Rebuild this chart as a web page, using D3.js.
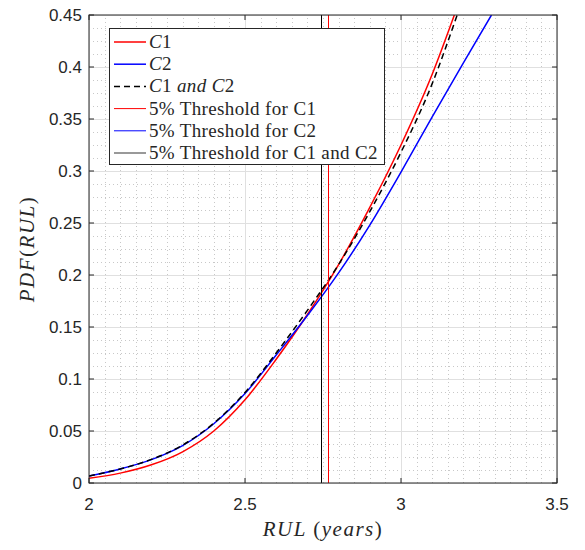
<!DOCTYPE html>
<html>
<head>
<meta charset="utf-8">
<script src="https://cdn.jsdelivr.net/npm/d3@7"></script>
<style>
  body { margin: 0; background: #fff; }
  svg { display: block; }
  .tick-label { font-family: "Liberation Sans", Arial, sans-serif; font-size: 17px; fill: #262626; }
  .tex { font-family: "Liberation Serif", "DejaVu Serif", serif; fill: #262626; }
</style>
</head>
<body>
<div id="chart"></div>
<script>
// curve samples
var c1X = [2.0, 2.1, 2.2, 2.3, 2.4, 2.5, 2.6, 2.7, 2.8, 2.9, 3.0, 3.1, 3.171];
var c1Y = [0.0045, 0.0095, 0.0175, 0.030, 0.050, 0.080, 0.119, 0.162, 0.210, 0.265, 0.325, 0.393, 0.450];

var c2X = [2.0, 2.1, 2.2, 2.3, 2.4, 2.5, 2.6, 2.7, 2.8, 2.9, 3.0, 3.1, 3.2, 3.29];
var c2Y = [0.0067, 0.0135, 0.0225, 0.036, 0.057, 0.086, 0.123, 0.161, 0.202, 0.248, 0.299, 0.352, 0.404, 0.450];

var c12X = [2.0, 2.1, 2.2, 2.3, 2.4, 2.5, 2.6, 2.7, 2.8, 2.9, 3.0, 3.1, 3.18];
var c12Y = [0.0067, 0.0135, 0.0227, 0.0365, 0.0575, 0.087, 0.125, 0.166, 0.210, 0.261, 0.318, 0.384, 0.450];

// 5% thresholds: C1, C2, C1 and C2
var thresholds = [2.765, 2.742, 2.745];

var xTicks = [2, 2.5, 3, 3.5];
var yTicks = [0, 0.05, 0.1, 0.15, 0.2, 0.25, 0.3, 0.35, 0.4, 0.45];
var yTickLabels = ["0", "0.05", "0.1", "0.15", "0.2", "0.25", "0.3", "0.35", "0.4", "0.45"];

var width = 585, height = 550;
var margin = {top: 15, right: 28, bottom: 67, left: 89};

var svg = d3.select("#chart").append("svg")
    .attr("width", width)
    .attr("height", height);

var x = d3.scaleLinear().domain([2, 3.5]).range([margin.left, width - margin.right]);
var y = d3.scaleLinear().domain([0, 0.45]).range([height - margin.bottom, margin.top]);

function px(v) { return Math.round(v) + 0.5; }

// minor grid (dotted)
var xMinor = d3.range(2, 3.5001, 0.05).map(function (v) { return +v.toFixed(3); });
var yMinor = d3.range(0, 0.45001, 0.0125).map(function (v) { return +v.toFixed(4); });

svg.append("g").selectAll("line").data(xMinor).enter().append("line")
    .attr("x1", function (d) { return px(x(d)); })
    .attr("x2", function (d) { return px(x(d)); })
    .attr("y1", y(0)).attr("y2", y(0.45))
    .attr("stroke", "#c8c8c8").attr("stroke-width", 1)
    .attr("stroke-dasharray", "1,3");

svg.append("g").selectAll("line").data(yMinor).enter().append("line")
    .attr("y1", function (d) { return px(y(d)); })
    .attr("y2", function (d) { return px(y(d)); })
    .attr("x1", x(2)).attr("x2", x(3.5))
    .attr("stroke", "#c8c8c8").attr("stroke-width", 1)
    .attr("stroke-dasharray", "1,3");

// major grid
svg.append("g").selectAll("line").data(xTicks).enter().append("line")
    .attr("x1", function (d) { return px(x(d)); })
    .attr("x2", function (d) { return px(x(d)); })
    .attr("y1", y(0)).attr("y2", y(0.45))
    .attr("stroke", "#e0e0e0").attr("stroke-width", 1);

svg.append("g").selectAll("line").data(yTicks).enter().append("line")
    .attr("y1", function (d) { return px(y(d)); })
    .attr("y2", function (d) { return px(y(d)); })
    .attr("x1", x(2)).attr("x2", x(3.5))
    .attr("stroke", "#e0e0e0").attr("stroke-width", 1);

// curves
var line = d3.line()
    .x(function (d) { return x(d[0]); })
    .y(function (d) { return y(d[1]); })
    .curve(d3.curveMonotoneX);

function zip(a, b) { return a.map(function (v, i) { return [v, b[i]]; }); }

svg.append("clipPath").attr("id", "clip").append("rect")
    .attr("x", x(2)).attr("y", y(0.45))
    .attr("width", x(3.5) - x(2)).attr("height", y(0) - y(0.45));

var curves = svg.append("g").attr("clip-path", "url(#clip)");

curves.append("path").datum(zip(c1X, c1Y))
    .attr("d", line).attr("fill", "none")
    .attr("stroke", "#ff0000").attr("stroke-width", 1.5);

curves.append("path").datum(zip(c2X, c2Y))
    .attr("d", line).attr("fill", "none")
    .attr("stroke", "#0000ff").attr("stroke-width", 1.5);

curves.append("path").datum(zip(c12X, c12Y))
    .attr("d", line).attr("fill", "none")
    .attr("stroke", "#000000").attr("stroke-width", 1.5)
    .attr("stroke-dasharray", "6,4");

var thrColors = ["#ff0000", "#0000ff", "#000000"];
curves.selectAll("line.thr").data(thresholds).enter().append("line")
    .attr("class", "thr")
    .attr("x1", function (d) { return px(x(d)); })
    .attr("x2", function (d) { return px(x(d)); })
    .attr("y1", y(0)).attr("y2", y(0.45))
    .attr("stroke", function (d, i) { return thrColors[i]; })
    .attr("stroke-width", 1);

// axes box with inward ticks
var axisColor = "#262626";
svg.append("rect")
    .attr("x", x(2)).attr("y", y(0.45))
    .attr("width", x(3.5) - x(2)).attr("height", y(0) - y(0.45))
    .attr("fill", "none").attr("stroke", axisColor).attr("stroke-width", 1);

var tickLen = 5;
var ticks = svg.append("g").attr("stroke", axisColor).attr("stroke-width", 1);
xTicks.forEach(function (t) {
    ticks.append("line").attr("x1", x(t)).attr("x2", x(t)).attr("y1", y(0)).attr("y2", y(0) - tickLen);
    ticks.append("line").attr("x1", x(t)).attr("x2", x(t)).attr("y1", y(0.45)).attr("y2", y(0.45) + tickLen);
});
yTicks.forEach(function (t) {
    ticks.append("line").attr("y1", y(t)).attr("y2", y(t)).attr("x1", x(2)).attr("x2", x(2) + tickLen);
    ticks.append("line").attr("y1", y(t)).attr("y2", y(t)).attr("x1", x(3.5)).attr("x2", x(3.5) - tickLen);
});

svg.append("g").selectAll("text").data(xTicks).enter().append("text")
    .attr("class", "tick-label")
    .attr("x", function (d) { return x(d); })
    .attr("y", y(0) + 27)
    .attr("text-anchor", "middle")
    .text(function (d) { return d; });

svg.append("g").selectAll("text").data(yTicks).enter().append("text")
    .attr("class", "tick-label")
    .attr("x", x(2) - 7)
    .attr("y", function (d) { return y(d) + 6; })
    .attr("text-anchor", "end")
    .text(function (d, i) { return yTickLabels[i]; });

// axis labels (math italic)
function texText(sel, parts) {
    parts.forEach(function (p) {
        sel.append("tspan")
            .attr("font-style", p[1] ? "italic" : "normal")
            .text(p[0]);
    });
}

var xl = svg.append("text").attr("class", "tex")
    .attr("x", 323).attr("y", 536)
    .attr("text-anchor", "middle")
    .attr("font-size", 21)
    .attr("letter-spacing", 1.5);
texText(xl, [["RUL ", true], ["(", false], ["years", true], [")", false]]);

var yl = svg.append("text").attr("class", "tex")
    .attr("transform", "translate(34," + 249 + ") rotate(-90)")
    .attr("text-anchor", "middle")
    .attr("font-size", 21)
    .attr("letter-spacing", 1.5);
texText(yl, [["PDF", true], ["(", false], ["RUL", true], [")", false]]);

// legend
var legendItems = [
    {parts: [["C", true], ["1", false]], color: "#ff0000", w: 1.5, dash: null},
    {parts: [["C", true], ["2", false]], color: "#0000ff", w: 1.5, dash: null},
    {parts: [["C", true], ["1 ", false], ["and ", true], ["C", true], ["2", false]], color: "#000000", w: 1.5, dash: "6,4"},
    {parts: [["5% Threshold for C1", false]], color: "#ff0000", w: 1, dash: null},
    {parts: [["5% Threshold for C2", false]], color: "#0000ff", w: 1, dash: null},
    {parts: [["5% Threshold for C1 and C2", false]], color: "#555555", w: 1.2, dash: null}
];

var lg = svg.append("g").attr("transform", "translate(109,28)");
lg.append("rect")
    .attr("x", 0.5).attr("y", 0.5)
    .attr("width", 275).attr("height", 136)
    .attr("fill", "#fff").attr("stroke", axisColor).attr("stroke-width", 1);

var rows = lg.selectAll("g.row").data(legendItems).enter().append("g")
    .attr("class", "row")
    .attr("transform", function (d, i) { return "translate(0," + (14 + i * 22.2) + ")"; });

rows.append("line")
    .attr("x1", 5).attr("x2", 37).attr("y1", 0).attr("y2", 0)
    .attr("stroke", function (d) { return d.color; })
    .attr("stroke-width", function (d) { return d.w; })
    .attr("stroke-dasharray", function (d) { return d.dash; });

rows.each(function (d) {
    var t = d3.select(this).append("text").attr("class", "tex")
        .attr("x", 40).attr("y", 6)
        .attr("font-size", 19)
        .attr("letter-spacing", 0.35)
        .attr("fill", "#000");
    texText(t, d.parts);
});
</script>
</body>
</html>
